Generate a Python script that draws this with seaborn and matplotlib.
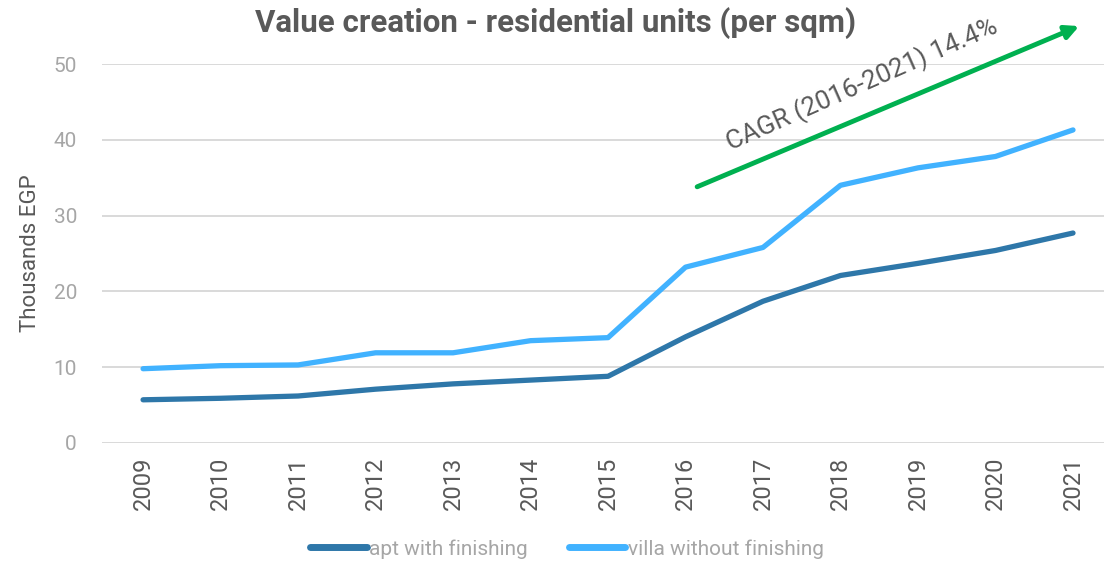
import pandas as pd
import matplotlib.pyplot as plt
import seaborn as sns

# datos (miles de EGP por m2)
years = [2009, 2010, 2011, 2012, 2013, 2014, 2015, 2016, 2017, 2018, 2019, 2020, 2021]
apt_with_finishing = [5.7, 5.9, 6.2, 7.1, 7.8, 8.3, 8.8, 14.0, 18.7, 22.1, 23.7, 25.4, 27.7]
villa_without_finishing = [9.8, 10.2, 10.3, 11.9, 11.9, 13.5, 13.9, 23.2, 25.8, 34.0, 36.3, 37.8, 41.3]
series_names = ["apt with finishing", "villa without finishing"]
y_ticks = [0, 10, 20, 30, 40, 50]
cagr_label = "CAGR (2016-2021) 14.4%"
cagr_start = (2016.15, 33.8)
cagr_end = (2021.08, 55.0)

sns.set_theme(style="white")
plt.rcParams["font.family"] = ["Roboto", "DejaVu Sans"]

df = pd.DataFrame({
    "year": years * 2,
    "value": apt_with_finishing + villa_without_finishing,
    "serie": [series_names[0]] * len(years) + [series_names[1]] * len(years),
})
colores = {series_names[0]: "#2E77A9", series_names[1]: "#41B2FF"}

fig = plt.figure(figsize=(11.04, 5.63), dpi=100)
ax = fig.add_axes([102 / 1104, 1 - 443 / 563, 1002 / 1104, (443 - 64) / 563])

sns.lineplot(data=df, x="year", y="value", hue="serie", palette=colores,
             linewidth=3.8, ax=ax, legend=False, solid_capstyle="round")

ax.set_xlim(2008.47, 2021.4)
ax.set_ylim(0, 50)
ax.set_yticks(y_ticks)
ax.set_xticks(years)
ax.set_xticklabels([str(y) for y in years], rotation=90, fontsize=17, color="#595959")
ax.tick_params(axis="y", labelsize=15, labelcolor="#A6A6A6", length=0, pad=18)
ax.tick_params(axis="x", length=0, pad=10)
ax.grid(axis="y", color="#D9D9D9", linewidth=1.4)
ax.set_axisbelow(True)
for s in ax.spines.values():
    s.set_visible(False)
ax.set_xlabel("")
ax.set_ylabel("Thousands EGP", fontsize=16, color="#595959", labelpad=9)

fig.text(556 / 1104, 1 - 23 / 563, "Value creation - residential units (per sqm)",
         ha="center", va="center", fontsize=22.5, fontweight="bold", color="#595959")

# flecha CAGR
ax.annotate("", xy=cagr_end, xytext=cagr_start, annotation_clip=False,
            arrowprops=dict(arrowstyle="-|>", color="#00B050", lw=3.5,
                            mutation_scale=20, shrinkA=0, shrinkB=0))
ax.text(2018.28, 47.3, cagr_label, rotation=23.8, rotation_mode="anchor",
        ha="center", va="center", fontsize=18.8, color="#595959", clip_on=False)

# leyenda
handles = [plt.Line2D([], [], color=colores[n], lw=5, solid_capstyle="round") for n in series_names]
fig.legend(handles, series_names, loc="center", bbox_to_anchor=(567 / 1104, 1 - 549 / 563),
           ncol=2, frameon=False, fontsize=15, labelcolor="#A6A6A6",
           handlelength=2.7, handletextpad=0.1, columnspacing=2.0)

fig.savefig("out.png", dpi=100)
